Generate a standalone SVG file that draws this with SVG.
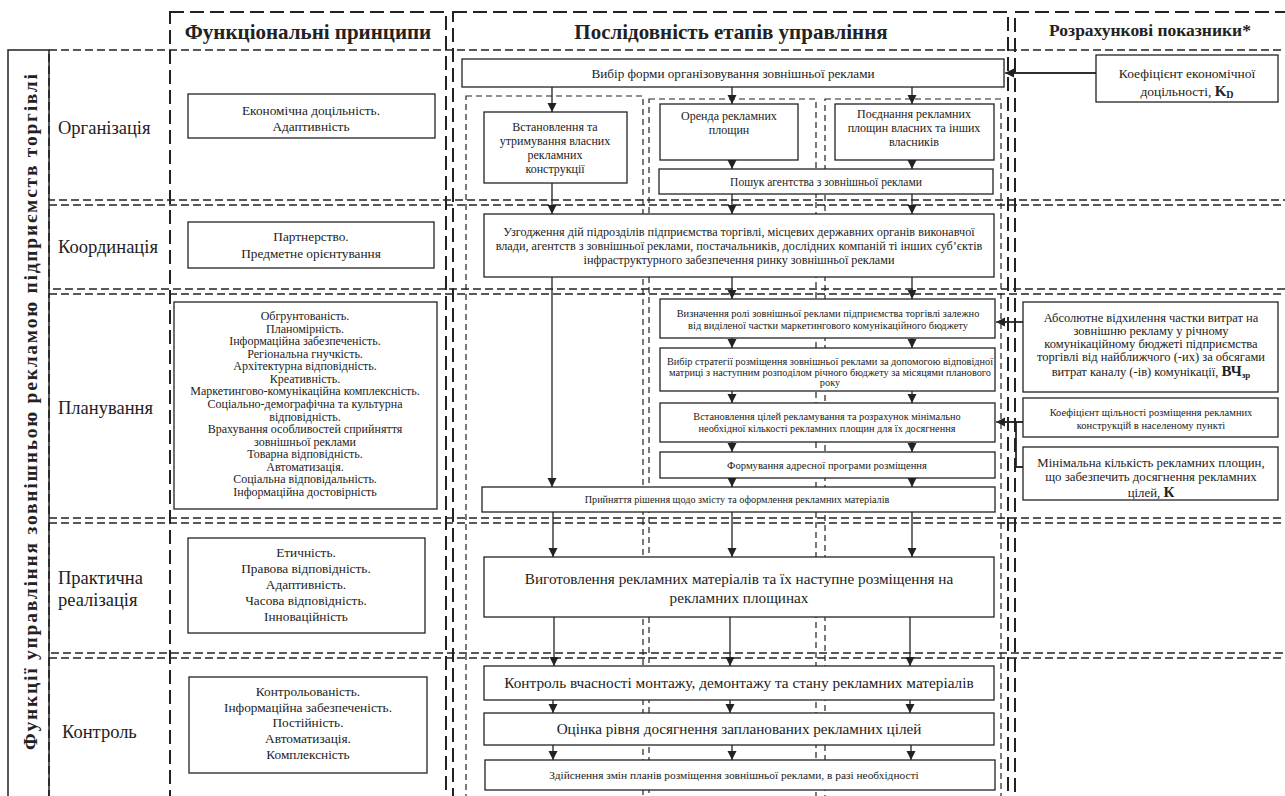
<svg xmlns="http://www.w3.org/2000/svg" width="1285" height="796" viewBox="0 0 1285 796">
<defs>
<style>
.col{fill:none;stroke:#222;stroke-width:2;stroke-dasharray:14 6}
.row{fill:none;stroke:#222;stroke-width:1.6;stroke-dasharray:8 4}
.sub{fill:none;stroke:#222;stroke-width:1.2;stroke-dasharray:6 4}
.box{fill:#fff;stroke:#222;stroke-width:1.3}
.frame{fill:none;stroke:#222;stroke-width:1.5}
text{font-family:"Liberation Serif","DejaVu Serif",serif;fill:#222}
.c{text-anchor:middle}
.h{font-weight:bold;font-size:21px}
.lab{font-size:18.5px}
.conn line,.conn path{stroke:#222;stroke-width:1.3;fill:none}
.dbl{stroke:#333;stroke-width:4;fill:none}
.dbw{stroke:#fff;stroke-width:1.8;fill:none}
</style>
<marker id="ah" viewBox="0 0 10 10" refX="10" refY="5" markerWidth="9" markerHeight="10" markerUnits="userSpaceOnUse" orient="auto">
<path d="M0,0 L10,5 L0,10 z" fill="#222"/>
</marker>
</defs>
<rect width="1285" height="796" fill="#fff"/>

<!-- rows -->
<g id="rows">
<rect class="row" x="49" y="50" width="1260" height="150"/>
<rect class="row" x="49" y="205" width="1260" height="84"/>
<rect class="row" x="49" y="294" width="1260" height="224"/>
<rect class="row" x="49" y="523" width="1260" height="130"/>
<rect class="row" x="49" y="658" width="1260" height="160"/>
</g>

<!-- columns -->
<g id="columns">
<rect class="col" x="170" y="12" width="276" height="810"/>
<rect class="col" x="453" y="12" width="555" height="810"/>
<rect class="col" x="1015" y="12" width="290" height="810"/>
<rect class="sub" x="466" y="96" width="177" height="720"/>
<rect class="sub" x="649" y="99" width="167" height="720"/>
<rect class="sub" x="825" y="99" width="176" height="720"/>
</g>

<!-- side title -->
<g id="side-title">
<path class="frame" d="M8,800 V50 H49 V800"/>
<text transform="translate(37,412) rotate(-90)" text-anchor="middle" font-weight="bold" font-size="19.5" textLength="676" lengthAdjust="spacing">Функції управління зовнішньою рекламою підприємств торгівлі</text>
</g>

<!-- headings -->
<g id="headings">
<text class="h c" x="308" y="39">Функціональні  принципи</text>
<text class="h c" x="731" y="39">Послідовність етапів управління</text>
<text class="c" x="1150" y="36" font-size="17.5" font-weight="bold">Розрахункові показники*</text>
</g>

<!-- row labels -->
<g id="row-labels">
<text class="lab" x="58" y="134">Організація</text>
<text class="lab" x="58" y="253">Координація</text>
<text class="lab" x="58" y="414">Планування</text>
<text class="lab" x="58" y="584">Практична</text>
<text class="lab" x="58" y="606">реалізація</text>
<text class="lab" x="62" y="738">Контроль</text>
</g>

<!-- principles -->
<g id="p-org" font-size="13.3">
<rect class="box" x="188" y="94" width="247" height="44"/>
<text class="c" x="311" y="115">Економічна доцільність.</text>
<text class="c" x="311" y="131">Адаптивність</text>
</g>
<g id="p-coord" font-size="13.3">
<rect class="box" x="188" y="222" width="246" height="46"/>
<text class="c" x="311" y="241">Партнерство.</text>
<text class="c" x="311" y="258">Предметне орієнтування</text>
</g>
<g id="p-plan" font-size="12">
<rect class="box" x="174" y="302" width="263" height="207"/>
<text class="c" x="305" y="320">Обгрунтованість.</text>
<text class="c" x="305" y="332.6">Планомірність.</text>
<text class="c" x="305" y="345.1">Інформаційна забезпеченість.</text>
<text class="c" x="305" y="357.7">Регіональна гнучкість.</text>
<text class="c" x="305" y="370.3">Архітектурна відповідність.</text>
<text class="c" x="305" y="382.9">Креативність.</text>
<text class="c" x="305" y="395.4">Маркетингово-комунікаційна комплексність.</text>
<text class="c" x="305" y="408">Соціально-демографічна та культурна</text>
<text class="c" x="305" y="420.6">відповідність.</text>
<text class="c" x="305" y="433.1">Врахування особливостей сприйняття</text>
<text class="c" x="305" y="445.7">зовнішньої реклами</text>
<text class="c" x="305" y="458.3">Товарна відповідність.</text>
<text class="c" x="305" y="470.9">Автоматизація.</text>
<text class="c" x="305" y="483.4">Соціальна відповідальність.</text>
<text class="c" x="305" y="496">Інформаційна достовірність</text>
</g>
<g id="p-real" font-size="13.3">
<rect class="box" x="188" y="538" width="237" height="95"/>
<text class="c" x="306" y="557">Етичність.</text>
<text class="c" x="306" y="573">Правова відповідність.</text>
<text class="c" x="306" y="589">Адаптивність.</text>
<text class="c" x="306" y="605">Часова відповідність.</text>
<text class="c" x="306" y="621">Інноваційність</text>
</g>
<g id="p-ctrl" font-size="13.3">
<rect class="box" x="189" y="677" width="238" height="96"/>
<text class="c" x="308" y="696">Контрольованість.</text>
<text class="c" x="308" y="712">Інформаційна забезпеченість.</text>
<text class="c" x="308" y="727">Постійність.</text>
<text class="c" x="308" y="743">Автоматизація.</text>
<text class="c" x="308" y="759">Комплексність</text>
</g>

<!-- connectors -->
<g id="connectors" class="conn">
<line x1="552" y1="87" x2="552" y2="112" marker-end="url(#ah)"/>
<line x1="732" y1="87" x2="732" y2="104" marker-end="url(#ah)"/>
<line x1="912" y1="87" x2="912" y2="104" marker-end="url(#ah)"/>
<line x1="732" y1="160" x2="732" y2="169" marker-end="url(#ah)"/>
<line x1="912" y1="160" x2="912" y2="169" marker-end="url(#ah)"/>
<line x1="552" y1="183" x2="552" y2="214" marker-end="url(#ah)"/>
<line x1="732" y1="194" x2="732" y2="214" marker-end="url(#ah)"/>
<line x1="912" y1="194" x2="912" y2="214" marker-end="url(#ah)"/>
<line x1="552" y1="277" x2="552" y2="487" marker-end="url(#ah)"/>
<line x1="732" y1="277" x2="732" y2="299" marker-end="url(#ah)"/>
<line x1="912" y1="277" x2="912" y2="299" marker-end="url(#ah)"/>
<line x1="732" y1="338" x2="732" y2="348" marker-end="url(#ah)"/>
<line x1="912" y1="338" x2="912" y2="348" marker-end="url(#ah)"/>
<line x1="732" y1="391" x2="732" y2="403" marker-end="url(#ah)"/>
<line x1="912" y1="391" x2="912" y2="403" marker-end="url(#ah)"/>
<line x1="732" y1="442" x2="732" y2="452" marker-end="url(#ah)"/>
<line x1="912" y1="442" x2="912" y2="452" marker-end="url(#ah)"/>
<line x1="732" y1="478" x2="732" y2="487" marker-end="url(#ah)"/>
<line x1="912" y1="478" x2="912" y2="487" marker-end="url(#ah)"/>
<line x1="553" y1="512" x2="553" y2="557" marker-end="url(#ah)"/>
<line x1="732" y1="512" x2="732" y2="557" marker-end="url(#ah)"/>
<line x1="912" y1="512" x2="912" y2="557" marker-end="url(#ah)"/>
<line x1="554" y1="617" x2="554" y2="666" marker-end="url(#ah)"/>
<line x1="730" y1="617" x2="730" y2="666" marker-end="url(#ah)"/>
<line x1="910" y1="617" x2="910" y2="666" marker-end="url(#ah)"/>
<line x1="553" y1="700" x2="553" y2="713" marker-end="url(#ah)"/>
<line x1="730" y1="700" x2="730" y2="713" marker-end="url(#ah)"/>
<line x1="910" y1="700" x2="910" y2="713" marker-end="url(#ah)"/>
<line x1="553" y1="745" x2="553" y2="760" marker-end="url(#ah)"/>
<line x1="732" y1="745" x2="732" y2="760" marker-end="url(#ah)"/>
<line x1="911" y1="745" x2="911" y2="760" marker-end="url(#ah)"/>
<!-- double-line feedback arrows from indicators -->
<path class="dbl" d="M1096,73 H1013"/>
<path class="dbw" d="M1097,73 H1013"/>
<path d="M1015,73 H1005" stroke-width="3" marker-end="url(#ah)"/>
<path class="dbl" d="M1023,322 H1004"/>
<path class="dbw" d="M1024,322 H1004"/>
<path d="M1006,322 H996" stroke-width="3" marker-end="url(#ah)"/>
<path class="dbl" d="M1023,467 H1016 V422 M1023,422 H1004"/>
<path class="dbw" d="M1024,467 H1016 V422 M1024,422 H1004"/>
<path d="M1006,422 H996" stroke-width="3" marker-end="url(#ah)"/>
</g>

<!-- stage nodes -->
<g id="s-choice">
<rect class="box" x="462" y="59" width="542" height="28"/>
<text class="c" x="733" y="77.5" font-size="13.2">Вибір форми організовування зовнішньої реклами</text>
</g>
<g id="s-own" font-size="12">
<rect class="box" x="484" y="112" width="143" height="71"/>
<text class="c" x="555" y="131">Встановлення та</text>
<text class="c" x="555" y="145">утримування власних</text>
<text class="c" x="555" y="159">рекламних</text>
<text class="c" x="555" y="173">конструкції</text>
</g>
<g id="s-rent" font-size="12">
<rect class="box" x="660" y="104" width="138" height="56"/>
<text class="c" x="729" y="120">Оренда рекламних</text>
<text class="c" x="729" y="134">площин</text>
</g>
<g id="s-combo" font-size="12">
<rect class="box" x="835" y="104" width="159" height="56"/>
<text class="c" x="914" y="118">Поєднання рекламних</text>
<text class="c" x="914" y="132">площин власних та інших</text>
<text class="c" x="914" y="146">власників</text>
</g>
<g id="s-agency">
<rect class="box" x="659" y="169" width="334" height="25"/>
<text class="c" x="826" y="185.5" font-size="11.5">Пошук агентства з зовнішньої реклами</text>
</g>
<g id="s-coord" font-size="12.2">
<rect class="box" x="484" y="214" width="510" height="63"/>
<text class="c" x="739" y="236">Узгодження дій підрозділів підприємства торгівлі, місцевих державних органів виконавчої</text>
<text class="c" x="739" y="250">влади, агентств з зовнішньої реклами, постачальників, дослідних компаній ті інших суб’єктів</text>
<text class="c" x="739" y="264">інфраструктурного забезпечення ринку зовнішньої реклами</text>
</g>
<g id="s-role" font-size="10.4">
<rect class="box" x="660" y="299" width="335" height="39"/>
<text class="c" x="828" y="317">Визначення ролі зовнішньої реклами підприємства торгівлі залежно</text>
<text class="c" x="828" y="329">від виділеної частки маркетингового комунікаційного бюджету</text>
</g>
<g id="s-strategy" font-size="10.3">
<rect class="box" x="660" y="348" width="335" height="43"/>
<text class="c" x="830" y="365">Вибір стратегії розміщення зовнішньої реклами за допомогою відповідної</text>
<text class="c" x="830" y="375.5">матриці з наступним розподілом річного бюджету за місяцями планового</text>
<text class="c" x="830" y="386">року</text>
</g>
<g id="s-goals" font-size="10.3">
<rect class="box" x="660" y="403" width="335" height="39"/>
<text class="c" x="827" y="420">Встановлення цілей рекламування та розрахунок мінімально</text>
<text class="c" x="827" y="432">необхідної кількості рекламних площин для їх досягнення</text>
</g>
<g id="s-address">
<rect class="box" x="660" y="452" width="335" height="26"/>
<text class="c" x="827" y="469" font-size="10.6">Формування адресної програми розміщення</text>
</g>
<g id="s-content">
<rect class="box" x="482" y="487" width="513" height="25"/>
<text class="c" x="737" y="503" font-size="10.2">Прийняття рішення щодо змісту та оформлення рекламних матеріалів</text>
</g>
<g id="s-produce" font-size="15.2">
<rect class="box" x="484" y="557" width="510" height="60"/>
<text class="c" x="739" y="584">Виготовлення рекламних матеріалів та їх наступне розміщення на</text>
<text class="c" x="739" y="603">рекламних площинах</text>
</g>
<g id="s-control">
<rect class="box" x="484" y="666" width="510" height="34"/>
<text class="c" x="739" y="688" font-size="15.3">Контроль вчасності монтажу, демонтажу та стану рекламних матеріалів</text>
</g>
<g id="s-eval">
<rect class="box" x="484" y="713" width="510" height="32"/>
<text class="c" x="739" y="734" font-size="15.2">Оцінка рівня досягнення запланованих рекламних цілей</text>
</g>
<g id="s-change">
<rect class="box" x="485" y="760" width="510" height="30"/>
<text class="c" x="734" y="779" font-size="11.4">Здійснення змін планів розміщення зовнішньої реклами, в разі необхідності</text>
</g>

<!-- indicators -->
<g id="i-kd" font-size="13.5">
<rect class="box" x="1096" y="55" width="182" height="47"/>
<text class="c" x="1187" y="78">Коефіцієнт економічної</text>
<text class="c" x="1187" y="96">доцільності, <tspan font-weight="bold" font-size="15">K</tspan><tspan font-weight="bold" font-size="10" dy="2">D</tspan></text>
</g>
<g id="i-dev" font-size="12.5">
<rect class="box" x="1023" y="302" width="255" height="90"/>
<text class="c" x="1151" y="322">Абсолютне відхилення частки витрат на</text>
<text class="c" x="1151" y="335">зовнішню рекламу у річному</text>
<text class="c" x="1151" y="348">комунікаційному бюджеті підприємства</text>
<text class="c" x="1151" y="361">торгівлі від найближчого (-их) за обсягами</text>
<text class="c" x="1151" y="376">витрат каналу (-ів) комунікації,  <tspan font-weight="bold" font-size="15">ВЧ</tspan><tspan font-weight="bold" font-size="9" dy="2">зр</tspan></text>
</g>
<g id="i-density" font-size="10.5">
<rect class="box" x="1023" y="398" width="255" height="39"/>
<text class="c" x="1151" y="416">Коефіцієнт щільності розміщення рекламних</text>
<text class="c" x="1151" y="429">конструкцій в населеному пункті</text>
</g>
<g id="i-min" font-size="12.8">
<rect class="box" x="1023" y="447" width="255" height="53"/>
<text class="c" x="1151" y="467">Мінімальна кількість рекламних площин,</text>
<text class="c" x="1151" y="481">що забезпечить досягнення рекламних</text>
<text class="c" x="1151" y="497">цілей, <tspan font-weight="bold" font-size="15">К</tspan></text>
</g>
</svg>
